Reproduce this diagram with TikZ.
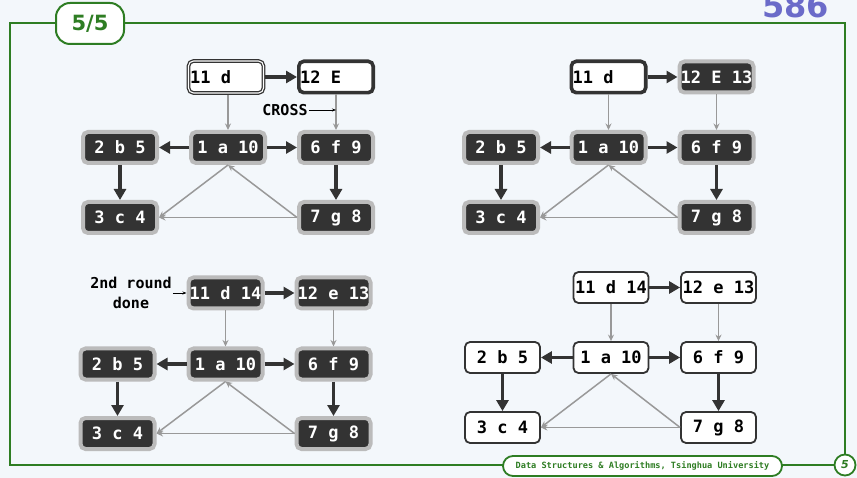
\documentclass[tikz,border=0pt]{standalone}
\usepackage{fontspec}
\setmainfont{DejaVu Sans}
\setmonofont{DejaVu Sans Mono}
\usetikzlibrary{arrows.meta}
\definecolor{bgc}{HTML}{F3F7FB}
\definecolor{frm}{HTML}{2E7D23}
\definecolor{dkc}{HTML}{333333}
\definecolor{brd}{HTML}{BBBBBB}
\definecolor{gyc}{HTML}{999999}
\definecolor{pur}{HTML}{6B6BC9}
\newcommand\nodefnt{\ttfamily\bfseries\fontsize{17}{19}\selectfont}
\tikzset{
  nbox/.style={rectangle, rounded corners=5pt, inner sep=0pt, font=\nodefnt, align=center},
  dkbox/.style={nbox, fill=dkc, draw=brd, line width=4pt, text=white, minimum width=74pt, minimum height=31pt},
  curbox/.style={nbox, fill=white, draw=dkc, line width=3.6pt, text=black, minimum width=74.4pt, minimum height=31.4pt},
  dblbox/.style={nbox, fill=white, draw=dkc, line width=1.3pt, double=white, double distance=1.1pt, outer sep=1.85pt, text=black, minimum width=75pt, minimum height=32pt},
  finbox/.style={nbox, fill=white, draw=dkc, line width=1.8pt, text=black, minimum width=75pt, minimum height=31pt},
  treeedge/.style={draw=dkc, line width=3.6pt, -{Triangle[length=11pt,width=12pt]}},
  backedge/.style={draw=gyc, line width=1.5pt, -{Stealth[length=6.5pt,width=6pt]}},
  lbl/.style={font=\ttfamily\bfseries\fontsize{15}{20}\selectfont, text=black, inner sep=1pt, align=center},
  lblarr/.style={draw=black, line width=0.8pt, -{Stealth[length=4pt,width=3pt]}},
}
\begin{document}
\begin{tikzpicture}[x=1pt,y=-1pt]
\useasboundingbox (0,0) rectangle (857,478);
\fill[bgc] (0,0) rectangle (857,478);
% frame
\draw[frm, line width=2pt] (10,23) rectangle (845,464.5);
\node[draw=frm, line width=2pt, fill=white, rounded corners=14pt, minimum width=68pt, minimum height=41pt, text=frm, font=\bfseries\fontsize{21}{24}\selectfont] (hdr) at (90,23.5) {5/5};
\node[draw=frm, line width=1.8pt, fill=white, rounded corners=10pt, minimum width=279pt, minimum height=20pt, inner sep=0pt, text=frm, font=\ttfamily\bfseries\fontsize{8.6}{10}\selectfont] (ftr) at (642.5,466) {Data Structures \& Algorithms, Tsinghua University};
\node[circle, draw=frm, line width=1.8pt, fill=white, minimum size=21pt, inner sep=0pt, text=frm, font=\bfseries\itshape\fontsize{11}{12}\selectfont] (pg) at (845,465) {5};
\node[anchor=base east, inner sep=0pt, text=pur, font=\bfseries\fontsize{32}{34}\selectfont] (num) at (829,18) {586};

% ---------- graph A (top left)
\node[dblbox] (A11) at (226,77) {11~d\phantom{~14}};
\node[curbox] (A12) at (336,77) {12~E\phantom{~13}};
\node[dkbox] (A2) at (120,147.5) {2~b~5};
\node[dkbox] (A1) at (228,147.5) {1~a~10};
\node[dkbox] (A6) at (336,147.5) {6~f~9};
\node[dkbox] (A3) at (120,217.5) {3~c~4};
\node[dkbox] (A7) at (336,217.5) {7~g~8};
\draw[treeedge] (A11) -- (A12);
\draw[treeedge] (A1) -- (A2);
\draw[treeedge] (A1) -- (A6);
\draw[treeedge] (A2) -- (A3);
\draw[treeedge] (A6) -- (A7);
\draw[backedge] (A11.south -| A1.north) -- (A1.north);
\draw[backedge] (A12) -- (A6);
\draw[backedge] (A1.south) -- (A3.east);
\draw[backedge] (A7.west) -- (A1.south);
\draw[backedge] (A7.west) -- (A3.east);
\node[lbl] (cross) at (285,110) {CROSS};
\draw[lblarr] (cross.east) -- (cross.east -| A12.south);

% ---------- graph B (top right)
\node[curbox] (B11) at (608.5,77) {11~d\phantom{~14}};
\node[dkbox] (B12) at (716.5,77) {12~E~13};
\node[dkbox] (B2) at (501,147.5) {2~b~5};
\node[dkbox] (B1) at (608.5,147.5) {1~a~10};
\node[dkbox] (B6) at (716.5,147.5) {6~f~9};
\node[dkbox] (B3) at (501,217.5) {3~c~4};
\node[dkbox] (B7) at (716.5,217.5) {7~g~8};
\draw[treeedge] (B11) -- (B12);
\draw[treeedge] (B1) -- (B2);
\draw[treeedge] (B1) -- (B6);
\draw[treeedge] (B2) -- (B3);
\draw[treeedge] (B6) -- (B7);
\draw[backedge] (B11) -- (B1);
\draw[backedge] (B12) -- (B6);
\draw[backedge] (B1.south) -- (B3.east);
\draw[backedge] (B7.west) -- (B1.south);
\draw[backedge] (B7.west) -- (B3.east);

% ---------- graph C (bottom left)
\node[dkbox] (C11) at (225.5,293) {11~d~14};
\node[dkbox] (C12) at (333.5,293) {12~e~13};
\node[dkbox] (C2) at (117.5,364) {2~b~5};
\node[dkbox] (C1) at (225.5,364) {1~a~10};
\node[dkbox] (C6) at (333.5,364) {6~f~9};
\node[dkbox] (C3) at (117.5,433.5) {3~c~4};
\node[dkbox] (C7) at (333.5,433.5) {7~g~8};
\draw[treeedge] (C11) -- (C12);
\draw[treeedge] (C1) -- (C2);
\draw[treeedge] (C1) -- (C6);
\draw[treeedge] (C2) -- (C3);
\draw[treeedge] (C6) -- (C7);
\draw[backedge] (C11) -- (C1);
\draw[backedge] (C12) -- (C6);
\draw[backedge] (C1.south) -- (C3.east);
\draw[backedge] (C7.west) -- (C1.south);
\draw[backedge] (C7.west) -- (C3.east);
\node[lbl] (rnd) at (131,293) {2nd~round\\done};
\draw[lblarr] (rnd.east |- C11.west) -- (C11.west);

% ---------- graph D (bottom right)
\node[finbox] (D11) at (611,287.5) {11~d~14};
\node[finbox] (D12) at (718.5,287.5) {12~e~13};
\node[finbox] (D2) at (502.5,357.5) {2~b~5};
\node[finbox] (D1) at (611,357.5) {1~a~10};
\node[finbox] (D6) at (718.5,357.5) {6~f~9};
\node[finbox] (D3) at (502.5,427.5) {3~c~4};
\node[finbox] (D7) at (718.5,427.5) {7~g~8};
\draw[treeedge] (D11) -- (D12);
\draw[treeedge] (D1) -- (D2);
\draw[treeedge] (D1) -- (D6);
\draw[treeedge] (D2) -- (D3);
\draw[treeedge] (D6) -- (D7);
\draw[backedge] (D11) -- (D1);
\draw[backedge] (D12) -- (D6);
\draw[backedge] (D1.south) -- (D3.east);
\draw[backedge] (D7.west) -- (D1.south);
\draw[backedge] (D7.west) -- (D3.east);
\end{tikzpicture}
\end{document}
